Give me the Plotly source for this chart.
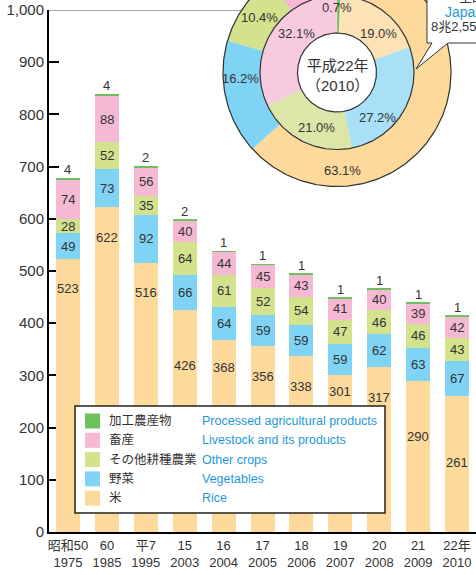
import numpy as np
import plotly.graph_objects as go

# ---------------- data ----------------
era_labels = ["昭和50", "60", "平7", "15", "16", "17", "18", "19", "20", "21", "22年"]
year_labels = ["1975", "1985", "1995", "2003", "2004", "2005", "2006", "2007", "2008", "2009", "2010"]
rice = [523, 622, 516, 426, 368, 356, 338, 301, 317, 290, 261]
vegetables = [49, 73, 92, 66, 64, 59, 59, 59, 62, 63, 67]
other_crops = [28, 52, 35, 64, 61, 52, 54, 47, 46, 46, 43]
livestock = [74, 88, 56, 40, 44, 45, 43, 41, 40, 39, 42]
processed = [4, 4, 2, 2, 1, 1, 1, 1, 1, 1, 1]

names_jp = ["米", "野菜", "その他耕種農業", "畜産", "加工農産物"]
names_en = ["Rice", "Vegetables", "Other crops", "Livestock and its products",
            "Processed agricultural products"]

# donut (2010) shares, clockwise from 12 o'clock: processed, rice, vegetables, other, livestock
donut_keys = ["加工農産物", "米", "野菜", "その他耕種農業", "畜産"]
region_share = [0.2, 63.1, 16.2, 10.4, 10.1]
japan_share = [0.7, 19.0, 27.2, 21.0, 32.1]
donut_title = "平成22年<br>（2010）"
callout_lines = ["全国", "Japan", "8兆2,551億円"]

# ---------------- style ----------------
FONT = "Liberation Sans, Noto Sans CJK JP, sans-serif"
TXT = "#333333"
BLUE = "#1E9AD6"
colors = {"米": "#FDD99B", "野菜": "#7FD3F5", "その他耕種農業": "#D3E28D",
          "畜産": "#F6B9D3", "加工農産物": "#6CC05D"}
light = {"米": "#FDE2B6", "野菜": "#A8E0F8", "その他耕種農業": "#DCE6A8",
         "畜産": "#F8CADF", "加工農産物": "#6CC05D"}

cats = [f"{a}<br>{b}" for a, b in zip(era_labels, year_labels)]
series = [rice, vegetables, other_crops, livestock, processed]

fig = go.Figure()
for name, vals in zip(names_jp, series):
    fig.add_trace(go.Bar(x=cats, y=vals, name=name, marker=dict(color=colors[name], line=dict(width=0)),
                         showlegend=False, hoverinfo="skip"))

annotations = []
# rice labels (offset below top, in px, to avoid legend)
rice_offsets = [30, 30, 30, 56, 28, 30, 31, 17, 31, 56, 67]
for c, v, off in zip(cats, rice, rice_offsets):
    annotations.append(dict(x=c, y=v, yshift=-off, text=str(v), showarrow=False,
                            font=dict(size=13, color=TXT), xref="x", yref="y"))
# middle segments centred
base = np.array(rice, dtype=float)
for vals in [vegetables, other_crops, livestock]:
    for c, b, v in zip(cats, base, vals):
        annotations.append(dict(x=c, y=b + v / 2, text=str(v), showarrow=False,
                                font=dict(size=13, color=TXT), xref="x", yref="y"))
    base = base + np.array(vals)
# processed labels above bar
for c, b, v in zip(cats, base, processed):
    annotations.append(dict(x=c, y=b + v, text=str(v), showarrow=False, yanchor="bottom",
                            yshift=-1, font=dict(size=13, color=TXT), xref="x", yref="y"))

# ---------------- donut (pixel-unit overlay axes) ----------------
CX, CY = 337, 72.5
R_HOLE, R_MID, R_OUT = 39.5, 77, 114

def add_ring(shares, r_in, r_out, palette):
    cum = np.concatenate([[0], np.cumsum(shares)]) / 100 * 2 * np.pi
    for k, key in enumerate(donut_keys):
        a0, a1 = cum[k], cum[k + 1]
        n = max(3, int(np.degrees(a1 - a0)) + 3)
        t = np.linspace(a0, a1, n)
        xs = np.concatenate([CX + r_out * np.sin(t), CX + r_in * np.sin(t[::-1])])
        ys = np.concatenate([CY - r_out * np.cos(t), CY - r_in * np.cos(t[::-1])])
        fig.add_trace(go.Scatter(x=xs, y=ys, mode="lines", fill="toself",
                                 fillcolor=palette[key], line=dict(width=0.6, color=palette[key]),
                                 xaxis="x2", yaxis="y2", showlegend=False, hoverinfo="skip"))

add_ring(region_share, R_MID, R_OUT, colors)
add_ring(japan_share, R_HOLE, R_MID, light)
tt = np.linspace(0, 2 * np.pi, 361)
for r in [R_HOLE, R_MID, R_OUT]:
    fig.add_trace(go.Scatter(x=CX + r * np.sin(tt), y=CY - r * np.cos(tt), mode="lines",
                             line=dict(color="#333333", width=1.2), xaxis="x2", yaxis="y2",
                             showlegend=False, hoverinfo="skip"))

# donut labels
outer_label_pos = {"米": (342, 170), "野菜": (240, 78), "その他耕種農業": (259, 17)}
inner_label_pos = {"加工農産物": (337, 7), "米": (378, 33), "野菜": (377, 117),
                   "その他耕種農業": (316, 127), "畜産": (296, 33)}
for key, (px, py) in outer_label_pos.items():
    annotations.append(dict(x=px, y=py, xref="x2", yref="y2", showarrow=False,
                            text=f"{region_share[donut_keys.index(key)]:.1f}%",
                            font=dict(size=13, color=TXT)))
for key, (px, py) in inner_label_pos.items():
    annotations.append(dict(x=px, y=py, xref="x2", yref="y2", showarrow=False,
                            text=f"{japan_share[donut_keys.index(key)]:.1f}%",
                            font=dict(size=13, color=TXT)))
annotations.append(dict(x=CX, y=CY + 3, xref="x2", yref="y2", showarrow=False, text=donut_title,
                        font=dict(size=15, color=TXT)))

shapes = []
# top frame line
shapes.append(dict(type="line", xref="paper", yref="y", x0=0, x1=1, y0=1000, y1=1000,
                   line=dict(color="#555555", width=1), layer="below"))
# callout box with pointer
shapes.append(dict(type="path", xref="x2", yref="y2",
                   path="M 427,-40 L 427,43 L 432,43 L 416,69 L 448,43 L 540,43 L 540,-40 Z",
                   fillcolor="white", line=dict(color="#333333", width=1), layer="above"))
for txt, px, py, size, col in zip(callout_lines, [457, 443, 429], [-3, 12, 27], [13, 14, 13],
                                  [TXT, BLUE, TXT]):
    annotations.append(dict(x=px, y=(532 - py) / 532, xref="x2", yref="paper", showarrow=False,
                            xanchor="left", yanchor="middle",
                            text=txt, font=dict(size=size, color=col)))

# legend box
shapes.append(dict(type="rect", xref="x2", yref="y2", x0=75, x1=385, y0=406, y1=513,
                   fillcolor="white", line=dict(color="#222222", width=1.5), layer="above"))
legend_rows = [4, 3, 2, 1, 0]  # top to bottom: processed, livestock, other, veg, rice
for j, idx in enumerate(legend_rows):
    yc = 421 + j * 19.3
    shapes.append(dict(type="rect", xref="x2", yref="y2", x0=85, x1=100, y0=yc - 7.5, y1=yc + 7.5,
                       fillcolor=colors[names_jp[idx]], line=dict(width=0), layer="above"))
    annotations.append(dict(x=107, y=yc, xref="x2", yref="y2", xanchor="left", showarrow=False,
                            text=names_jp[idx], font=dict(size=12.5, color=TXT)))
    annotations.append(dict(x=200, y=yc, xref="x2", yref="y2", xanchor="left", showarrow=False,
                            text=names_en[idx], font=dict(size=12.5, color=BLUE)))

fig.update_layout(
    width=476, height=575, barmode="stack", bargap=0.383,
    margin=dict(l=49, r=0, t=0, b=43, autoexpand=False),
    paper_bgcolor="white", plot_bgcolor="rgba(0,0,0,0)",
    font=dict(family=FONT, color=TXT),
    xaxis=dict(domain=[0, 1], range=[-0.488, 10.488], showline=True, linecolor="black", linewidth=2,
               ticks="", showgrid=False, tickfont=dict(size=13, color=TXT), anchor="y",
               fixedrange=True, automargin=False),
    yaxis=dict(domain=[0, 522 / 532], range=[0, 1000], showline=True, linecolor="black", linewidth=2,
               ticks="inside", ticklen=10, tickwidth=2, tickcolor="black",
               tickvals=list(range(0, 1001, 100)), tickformat=",d", showgrid=False, zeroline=False,
               tickfont=dict(size=15, color=TXT), layer="below traces", anchor="x", fixedrange=True,
               automargin=False),
    xaxis2=dict(domain=[0, 1], range=[49, 476], visible=False, anchor="y2", fixedrange=True,
                automargin=False),
    yaxis2=dict(domain=[0, 1], range=[532, 0], visible=False, anchor="x2", fixedrange=True,
                automargin=False),
    shapes=shapes, annotations=annotations,
)

fig.write_html("out.html", config={"displayModeBar": False},
               post_script="document.body.style.margin='0';document.body.style.overflow='hidden';")
